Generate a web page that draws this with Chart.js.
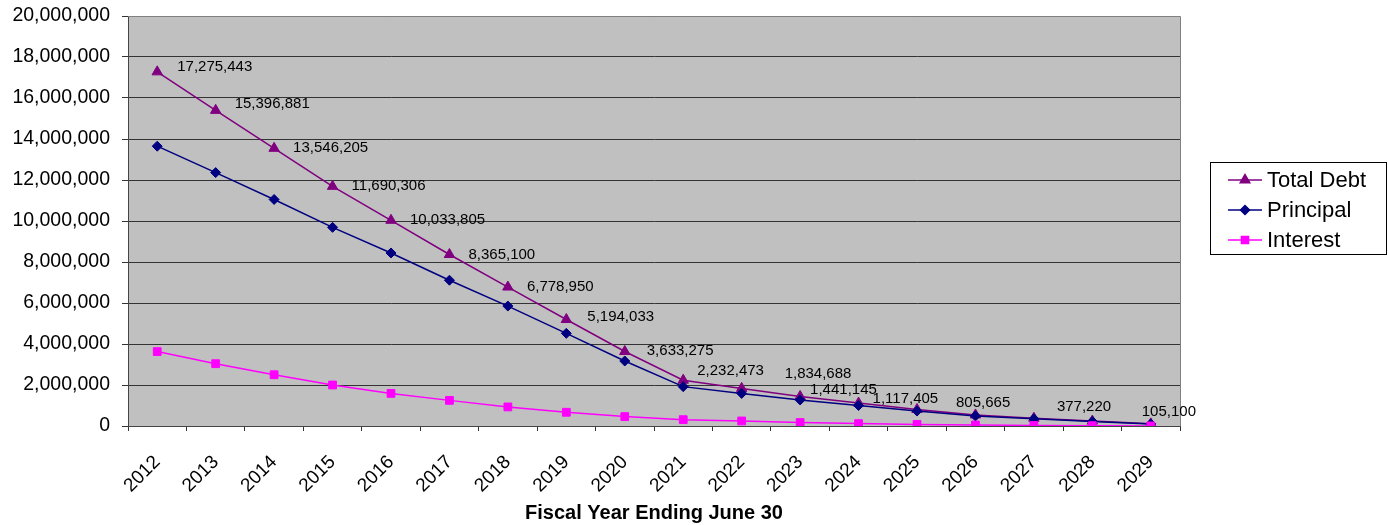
<!DOCTYPE html>
<html><head><meta charset="utf-8">
<script src="https://cdn.jsdelivr.net/npm/chart.js@4/dist/chart.umd.min.js"></script>
<style>html,body{margin:0;padding:0;background:#fff}#wrap{width:1388px;height:525px}</style>
</head><body><div id="wrap"><canvas id="c" width="1388" height="525"></canvas></div>
<script>
const categories = ['2012','2013','2014','2015','2016','2017','2018','2019','2020','2021','2022','2023','2024','2025','2026','2027','2028','2029'];
const totalDebt = [17275443,15396881,13546205,11690306,10033805,8365100,6778950,5194033,3633275,2232473,1834688,1441145,1117405,805665,540000,377220,240000,105100];
const principal = [13650000,12360000,11050000,9690000,8440000,7110000,5850000,4520000,3170000,1920000,1590000,1270000,1000000,730000,490000,350000,225000,100000];
const interest = [3630000,3040000,2500000,2000000,1590000,1250000,930000,670000,460000,310000,245000,170000,117000,76000,50000,27000,15000,5000];
const totalDebtLabels = ['17,275,443','15,396,881','13,546,205','11,690,306','10,033,805','8,365,100','6,778,950','5,194,033','3,633,275','2,232,473','1,834,688','1,441,145','1,117,405','805,665',null,'377,220',null,'105,100'];
const yTickValues = [0,2000000,4000000,6000000,8000000,10000000,12000000,14000000,16000000,18000000,20000000];
const seriesNames = ['Total Debt','Principal','Interest'];
const xTitle = 'Fiscal Year Ending June 30';

const FONT = "'Liberation Sans', Arial, sans-serif";
const fmt = v => Number(v).toLocaleString('en-US');

const bgPlugin = {
  id: 'bg',
  beforeDraw(chart) {
    const {ctx, chartArea: a} = chart;
    ctx.save();
    ctx.fillStyle = '#C0C0C0';
    ctx.fillRect(a.left, a.top, a.right - a.left, a.bottom - a.top);
    ctx.restore();
  },
  beforeDatasetsDraw(chart) {
    const {ctx, chartArea: a} = chart;
    ctx.save();
    ctx.strokeStyle = '#808080';
    ctx.lineWidth = 1;
    ctx.beginPath();
    ctx.moveTo(a.left, a.top + 0.5);
    ctx.lineTo(a.right + 0.5, a.top + 0.5);
    ctx.lineTo(a.right + 0.5, a.bottom);
    ctx.stroke();
    ctx.restore();
  }
};

const labelPlugin = {
  id: 'dlabels',
  afterDatasetsDraw(chart, args, opts) {
    const {ctx} = chart;
    const meta = chart.getDatasetMeta(0);
    const nudges = opts.nudges || {};
    ctx.save();
    ctx.font = '15px ' + FONT;
    ctx.fillStyle = '#000';
    ctx.textAlign = 'left';
    ctx.textBaseline = 'middle';
    meta.data.forEach((pt, i) => {
      const t = totalDebtLabels[i];
      if (!t) return;
      const n = nudges[i] || [19, 0];
      ctx.fillText(t, pt.x + n[0], pt.y + n[1]);
    });
    ctx.restore();
  }
};

const legendPlugin = {
  id: 'customLegend',
  afterDraw(chart) {
    const {ctx} = chart;
    const x0 = 1210, y0 = 162, w = 177, h = 93;
    ctx.save();
    ctx.fillStyle = '#fff';
    ctx.fillRect(x0, y0, w, h);
    ctx.strokeStyle = '#000';
    ctx.lineWidth = 1;
    ctx.strokeRect(x0 + 0.5, y0 + 0.5, w - 1, h - 1);
    chart.data.datasets.forEach((ds, i) => {
      const y = y0 + 18 + i * 30;
      ctx.strokeStyle = ds.borderColor;
      ctx.lineWidth = 1.5;
      ctx.beginPath();
      ctx.moveTo(x0 + 18, y);
      ctx.lineTo(x0 + 52, y);
      ctx.stroke();
      ctx.fillStyle = ds.backgroundColor;
      Chart.helpers.drawPoint(ctx, {pointStyle: ds.pointStyle, radius: ds.pointRadius - 0.5, borderWidth: 1, rotation: 0}, x0 + 35, y);
      ctx.fill();
      ctx.fillStyle = '#000';
      ctx.font = '22px ' + FONT;
      ctx.textAlign = 'left';
      ctx.textBaseline = 'middle';
      ctx.fillText(ds.label, x0 + 57, y + 1);
    });
    ctx.restore();
  }
};

new Chart(document.getElementById('c'), {
  type: 'line',
  data: {
    labels: categories,
    datasets: [
      {label: seriesNames[0], data: totalDebt, borderColor: '#800080', backgroundColor: '#800080', pointStyle: 'triangle', pointRadius: 6, pointBorderWidth: 1, borderWidth: 1.5, order: 3},
      {label: seriesNames[1], data: principal, borderColor: '#000080', backgroundColor: '#000080', pointStyle: 'rectRot', pointRadius: 5, pointBorderWidth: 1, borderWidth: 1.5, order: 2},
      {label: seriesNames[2], data: interest, borderColor: '#FF00FF', backgroundColor: '#FF00FF', pointStyle: 'rect', pointRadius: 5.5, pointBorderWidth: 1, borderWidth: 1.5, order: 1}
    ]
  },
  options: {
    responsive: false,
    animation: false,
    devicePixelRatio: 1,
    layout: {padding: {top: 16, right: 208, left: 0, bottom: 0}},
    plugins: {
      legend: {display: false}, tooltip: {enabled: false},
      dlabels: {nudges: {0: [20, -5], 1: [19, -7], 7: [21, -3], 8: [22, -1], 9: [14, -9], 10: [43, -15], 11: [10, -7], 12: [14, -4], 13: [39, -7], 15: [23, -11], 17: [-9, -12]}}
    },
    scales: {
      x: {
        offset: true,
        grid: {offset: true, drawOnChartArea: false, tickLength: 5, color: '#333'},
        border: {display: true, color: '#444', width: 1},
        ticks: {maxRotation: 45, minRotation: 45, autoSkip: false, color: '#000', font: {family: FONT, size: 19}, padding: 20},
        title: {display: true, text: xTitle, color: '#000', font: {family: FONT, size: 20, weight: 'bold'}, padding: {top: 0, bottom: 0}},
        afterFit(s) { s.height = 99; s.paddingLeft = 0; s.paddingRight = 0; }
      },
      y: {
        min: 0, max: 20000000,
        afterBuildTicks(s) { s.ticks = yTickValues.map(v => ({value: v})); },
        grid: {color: '#333', tickLength: 6, tickColor: '#333'},
        border: {display: true, color: '#444', width: 1},
        ticks: {color: '#000', font: {family: FONT, size: 19.5}, padding: 12, callback: v => fmt(v)},
        afterFit(s) { s.width = 128; s.paddingTop = 0; s.paddingBottom = 0; }
      }
    }
  },
  plugins: [bgPlugin, labelPlugin, legendPlugin]
});
</script></body></html>
